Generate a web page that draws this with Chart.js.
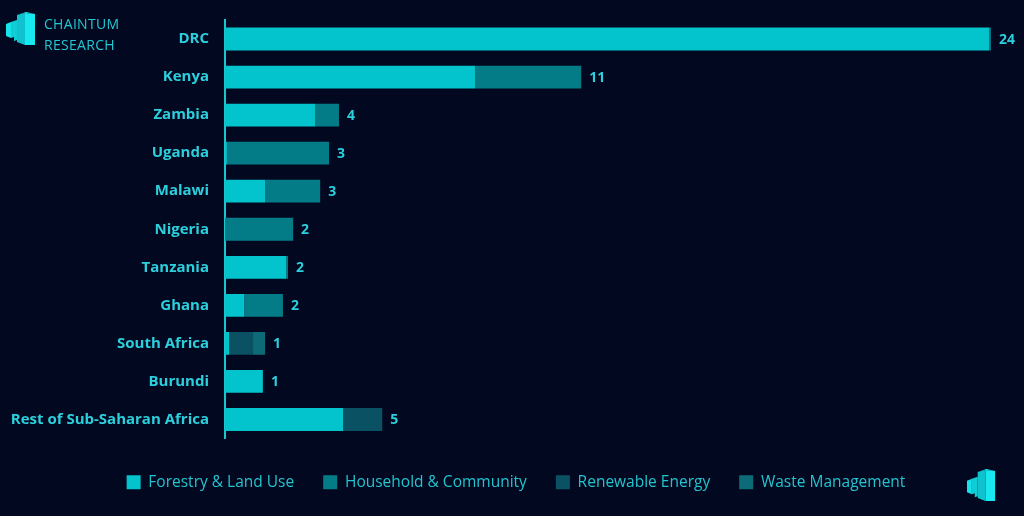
<!DOCTYPE html>
<html>
<head>
<meta charset="utf-8">
<script src="https://cdn.jsdelivr.net/npm/chart.js@4"></script>
<style>
  body { margin: 0; background: #020820; }
  #wrap { position: relative; width: 1024px; height: 516px; overflow: hidden; }
  #brand {
    position: absolute; left: 44px; top: 13px;
    font-family: "Open Sans", sans-serif; font-size: 14px; line-height: 21px;
    letter-spacing: 0.3px; color: #22c8d2;
  }
</style>
</head>
<body>
<div id="wrap">
  <canvas id="grafico" width="1024" height="516"></canvas>
  <div id="brand">CHAINTUM<br>RESEARCH</div>
</div>
<script>
// dados (milhoes, aprox.)
const paises = ['DRC', 'Kenya', 'Zambia', 'Uganda', 'Malawi', 'Nigeria', 'Tanzania', 'Ghana', 'South Africa', 'Burundi', 'Rest of Sub-Saharan Africa']
const florestal = [24.0, 7.86, 2.83, 0.06, 1.26, 0, 1.92, 0.6, 0.13, 1.19, 3.71]
const domestico = [0.06, 3.33, 0.75, 3.21, 1.73, 2.14, 0.06, 1.22, 0, 0, 0]
const renovavel = [0, 0, 0, 0, 0, 0, 0, 0, 0.75, 0, 1.23]
const residuos = [0, 0, 0, 0, 0, 0, 0, 0, 0.38, 0, 0]
const nomesSeries = ['Forestry & Land Use', 'Household & Community', 'Renewable Energy', 'Waste Management']

const corTexto = '#2ccfdc'

// logo desenhado no canvas
const desenharLogo = (ctx, x, y, s) => {
    const faces = [
        ['#16e2ea', [[0, 12], [5, 10], [5, 26], [0, 24]]],
        ['#10ccd6', [[5, 10], [11, 8], [11, 28], [8, 29], [8, 25], [5, 26]]],
        ['#0fc2cd', [[11, 3], [19, 1], [19, 33], [11, 30]]],
        ['#1cf0f6', [[11, 3], [20, 0], [29, 2], [19, 1]]],
        ['#18e8ef', [[19, 1], [29, 2], [29, 33], [19, 33]]]
    ]
    faces.forEach(([cor, pts]) => {
        ctx.beginPath()
        pts.forEach(([px, py], i) => {
            const X = x + px * s, Y = y + py * s
            i === 0 ? ctx.moveTo(X, Y) : ctx.lineTo(X, Y)
        })
        ctx.closePath()
        ctx.fillStyle = cor
        ctx.fill()
    })
}

const pluginExtras = {
    id: 'extras',
    afterDatasetsDraw(chart) {
        const ctx = chart.ctx
        const xs = chart.scales.x
        const ys = chart.scales.y
        ctx.save()
        ctx.font = 'bold 14px "Open Sans", sans-serif'
        ctx.fillStyle = corTexto
        ctx.textBaseline = 'middle'
        paises.forEach((p, i) => {
            const total = chart.data.datasets.reduce((s, ds) => s + ds.data[i], 0)
            ctx.fillText(String(Math.round(total)), xs.getPixelForValue(total) + 8, ys.getPixelForValue(i) + 1)
        })
        ctx.restore()
        desenharLogo(ctx, 6, 12, 1)
        desenharLogo(ctx, 967, 469, 0.97)
    }
}

const ctx = document.getElementById('grafico')
const grafico = new Chart(ctx, {
    type: 'bar',
    data: {
        labels: paises,
        datasets: [
            { label: nomesSeries[0], data: florestal, backgroundColor: '#03c3cc' },
            { label: nomesSeries[1], data: domestico, backgroundColor: '#047c87' },
            { label: nomesSeries[2], data: renovavel, backgroundColor: '#0a5263' },
            { label: nomesSeries[3], data: residuos, backgroundColor: '#0d6b78' }
        ]
    },
    options: {
        indexAxis: 'y',
        responsive: false,
        animation: false,
        layout: { padding: { top: 20, right: 0, bottom: 16, left: 8 } },
        datasets: { bar: { barPercentage: 0.6, categoryPercentage: 1, borderWidth: 0 } },
        scales: {
            x: {
                stacked: true, min: 0, max: 25.1,
                grid: { display: false },
                border: { display: false },
                ticks: { display: false },
                afterFit: (eixo) => { eixo.height = 7 }
            },
            y: {
                stacked: true,
                grid: { display: false },
                border: { display: true, color: '#18c6d0', width: 2 },
                ticks: {
                    color: corTexto, padding: 8,
                    font: { family: '"Open Sans", sans-serif', size: 15, weight: 'bold' }
                },
                afterFit: (eixo) => { eixo.width = 217 }
            }
        },
        plugins: {
            tooltip: { enabled: false },
            legend: {
                position: 'bottom',
                labels: {
                    color: '#22c4cf', boxWidth: 14, boxHeight: 14, padding: 29,
                    font: { family: '"Open Sans", sans-serif', size: 15.5 }
                }
            }
        }
    },
    plugins: [pluginExtras]
})
</script>
</body>
</html>
